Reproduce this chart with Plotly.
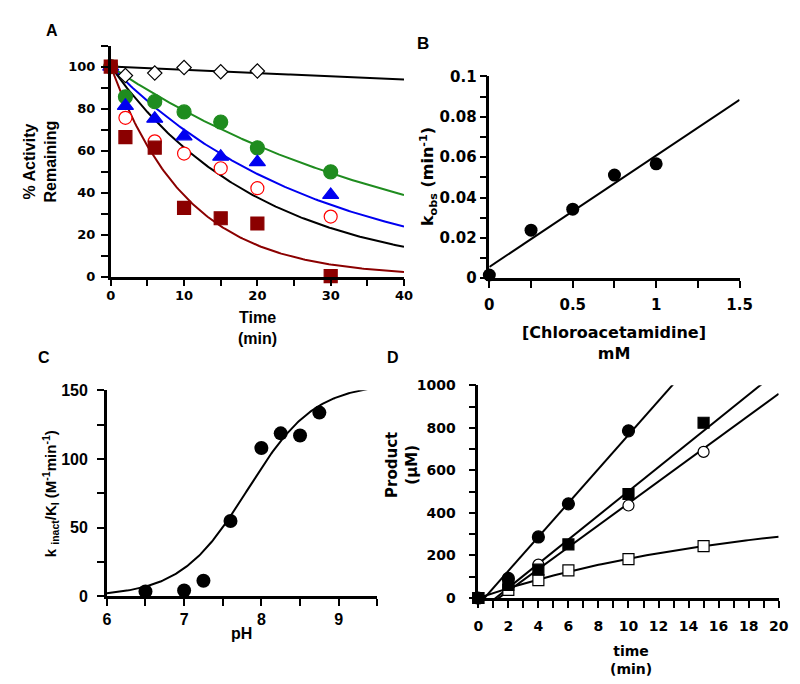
import numpy as np
import plotly.graph_objects as go

W, H = 800, 684

# ---- panel A: % activity remaining vs time
a_time = [0, 2, 6, 10, 15, 20, 30]
a_ctrl_time = [0, 2, 6, 10, 15, 20]
a_ctrl = [100, 95.7, 96.9, 99.5, 97.5, 97.9]
a_green = [100, 85.6, 83.3, 78.4, 73.6, 61.3, 49.9]
a_blue = [100, 81.3, 75.2, 66.8, 57.1, 54.5, 38.9]
a_red = [100, 75.6, 64.4, 58.6, 51.6, 42.1, 28.6]
a_maroon = [100, 66.4, 61.4, 32.7, 27.8, 25.3, 0.3]
a_kfit = [0.0016, 0.0236, 0.0358, 0.0488, 0.095]  # first-order fits

# ---- panel B: kobs vs [inhibitor]
b_conc = [0, 0.25, 0.5, 0.75, 1.0]
b_kobs = [0.0016, 0.0238, 0.0342, 0.0511, 0.0567]
b_slope, b_icept = 0.0552, 0.0056

# ---- panel C: kinact/KI vs pH
c_ph = [6.5, 7.0, 7.25, 7.6, 8.0, 8.25, 8.5, 8.75]
c_k = [3.5, 4.2, 11.3, 54.8, 108, 118.6, 117, 133.7]
c_kmax, c_pka = 155, 7.82

# ---- panel D: product vs time
d_t_fc = [0, 2, 4, 6, 10]
d_fc = [0, 92, 287, 443, 786]
d_t_fs = [0, 2, 4, 6, 10, 15]
d_fs = [0, 61, 133, 252, 489, 824]
d_t_oc = [0, 4, 10, 15]
d_oc = [0, 157, 435, 687]
d_t_os = [0, 2, 4, 6, 10, 15]
d_os = [0, 38, 84, 130, 183, 244]
d_lines = [(80, -33), (56.8, -66), (51.5, -70)]  # slope, intercept
d_sat_a, d_sat_k = 420, 0.058

GREEN = "#1f8c1f"
BLUE = "#0000f0"
RED = "#ff0000"
MAROON = "#8b0000"
ARIAL = "Liberation Sans, Arial, sans-serif"
WIDE = "DejaVu Sans, sans-serif"


def px(x):
    return x / W


def py(y):
    return 1 - y / H


fig = go.Figure()

# panel A
t = np.linspace(0, 40, 161)
for k, col in zip(a_kfit, ["black", GREEN, BLUE, "black", MAROON]):
    fig.add_trace(go.Scatter(x=t, y=100 * np.exp(-k * t), mode="lines",
                             line=dict(color=col, width=2), xaxis="x", yaxis="y"))
marks = [
    (a_ctrl_time, a_ctrl, "diamond", "white", "black", 11),
    (a_time, a_green, "circle", GREEN, GREEN, 14),
    (a_time, a_blue, "triangle-up", BLUE, BLUE, 14),
    (a_time, a_red, "circle", "white", RED, 13),
    (a_time, a_maroon, "square", MAROON, MAROON, 13),
]
for xs, ys, sym, fill, edge, size in marks:
    fig.add_trace(go.Scatter(x=xs, y=ys, mode="markers", cliponaxis=False,
                             marker=dict(symbol=sym, color=fill, size=size,
                                         line=dict(color=edge, width=1.2)),
                             xaxis="x", yaxis="y"))

# panel B
bx = np.array([0, 1.5])
fig.add_trace(go.Scatter(x=bx, y=b_slope * bx + b_icept, mode="lines",
                         line=dict(color="black", width=2), xaxis="x2", yaxis="y2"))
fig.add_trace(go.Scatter(x=b_conc, y=b_kobs, mode="markers", cliponaxis=False,
                         marker=dict(color="black", size=13), xaxis="x2", yaxis="y2"))

# panel C
ph = np.linspace(6, 9.5, 200)
fig.add_trace(go.Scatter(x=ph, y=c_kmax / (1 + 10 ** (c_pka - ph)), mode="lines",
                         line=dict(color="black", width=2), xaxis="x3", yaxis="y3"))
fig.add_trace(go.Scatter(x=c_ph, y=c_k, mode="markers", cliponaxis=False,
                         marker=dict(color="black", size=14), xaxis="x3", yaxis="y3"))

# panel D
td = np.linspace(0, 20, 101)
for m, b in d_lines:
    fig.add_trace(go.Scatter(x=td, y=m * td + b, mode="lines",
                             line=dict(color="black", width=2), xaxis="x4", yaxis="y4"))
fig.add_trace(go.Scatter(x=td, y=d_sat_a * (1 - np.exp(-d_sat_k * td)), mode="lines",
                         line=dict(color="black", width=2), xaxis="x4", yaxis="y4"))
dmarks = [
    (d_t_os, d_os, "square", "white", 11),
    (d_t_oc, d_oc, "circle", "white", 11),
    (d_t_fs, d_fs, "square", "black", 11),
    (d_t_fc, d_fc, "circle", "black", 12),
]
for xs, ys, sym, fill, size in dmarks:
    fig.add_trace(go.Scatter(x=xs, y=ys, mode="markers", cliponaxis=False,
                             marker=dict(symbol=sym, color=fill, size=size,
                                         line=dict(color="black", width=1.2)),
                             xaxis="x4", yaxis="y4"))


def ax(dom, rng, dtick, minor, fsize, anchor, family=WIDE, standoff=0):
    return dict(domain=dom, range=rng, dtick=dtick, tick0=rng[0], anchor=anchor,
                showline=True, linecolor="black", linewidth=2.5,
                ticks="outside", ticklen=7, tickwidth=2, tickcolor="black",
                ticklabelstandoff=standoff,
                minor=dict(dtick=minor, tick0=rng[0], ticks="outside", ticklen=7,
                           tickwidth=2, tickcolor="black"),
                showgrid=False, zeroline=False,
                tickfont=dict(family=family, size=fsize, color="black", weight="bold"))


fig.update_layout(
    width=W, height=H, margin=dict(l=0, r=0, t=0, b=0),
    paper_bgcolor="white", plot_bgcolor="white", showlegend=False,
    xaxis=ax([px(100), px(400)], [0, 40], 10, 5, 13, "y", standoff=-2),
    yaxis=ax([py(266.7), py(29.3)], [0, 110], 20, 10, 13, "x", standoff=3),
    xaxis2=ax([px(487.3), px(743.3)], [0, 1.5], 0.5, 0.25, 15, "y2", standoff=4),
    yaxis2=ax([py(268.3), py(61)], [0, 0.1], 0.02, 0.01, 15, "x2"),
    xaxis3=ax([px(96), px(372.7)], [6, 9.5], 1, 0.5, 16, "y3", family=ARIAL),
    yaxis3=ax([py(595), py(383.3)], [0, 150], 50, 25, 16, "x3", family=ARIAL, standoff=6),
    xaxis4=ax([px(476), px(783.3)], [0, 20], 2, 1, 14, "y4", standoff=6),
    yaxis4=ax([py(596.7), py(378.3)], [0, 1000], 200, 100, 14, "x4", standoff=10),
)


def label(text, x, y, size, angle=0, family=WIDE):
    fig.add_annotation(text=text, x=px(x), y=py(y), xref="paper", yref="paper",
                       showarrow=False, textangle=angle, xanchor="center", yanchor="middle",
                       font=dict(family=family, size=size, color="black", weight="bold"))


label("A", 40, 14, 16, family=ARIAL)
label("B", 419, 27, 17, family=ARIAL)
label("C", 32, 350, 16, family=ARIAL)
label("D", 389, 350, 16, family=ARIAL)

label("% Activity<br>Remaining", 28, 148, 16, -90, family=ARIAL)
label("Time<br>(min)", 250, 319, 16, family=ARIAL)
label("k<sub>obs</sub> (min<sup>-1</sup>)", 425, 164, 16, -90)
label("[Chloroacetamidine]<br>mM", 615, 335, 16)
label("k <sub>inact</sub>/K<sub>I</sub> (M<sup>-1</sup>min<sup>-1</sup>)", 38, 490, 15, -90, family=ARIAL)
label("pH", 234, 633, 16, family=ARIAL)
label("Product<br>(µM)", 398, 460, 15, -90)
label("time<br>(min)", 632, 660, 14)

fig.write_html("out.html")
